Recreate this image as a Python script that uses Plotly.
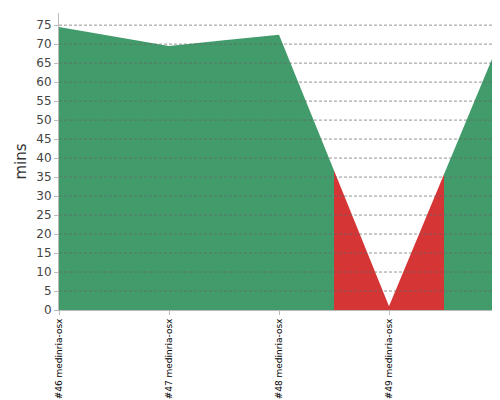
import plotly.graph_objects as go

builds = ["#46 medinria-osx", "#47 medinria-osx", "#48 medinria-osx", "#49 medinria-osx", "#50 medinria-osx"]
durations = [74.5, 69.5, 72.5, 1.0, 70.5]
status = ["ok", "ok", "ok", "fail", "ok"]
grid_values = list(range(5, 80, 5))

colors = {"ok": "#429b6b", "fail": "#d63535"}
n = len(durations)
fig = go.Figure()
for i in range(n):
    xs, ys = [], []
    if i > 0:
        xs.append(i - 0.5); ys.append((durations[i - 1] + durations[i]) / 2)
    xs.append(i); ys.append(durations[i])
    if i < n - 1:
        xs.append(i + 0.5); ys.append((durations[i] + durations[i + 1]) / 2)
    fig.add_trace(go.Scatter(x=xs, y=ys, mode="lines", line=dict(width=0, color=colors[status[i]]),
                             fill="tozeroy", fillcolor=colors[status[i]], showlegend=False, hoverinfo="skip"))

for g in grid_values:
    fig.add_shape(type="line", xref="paper", x0=0, x1=1, yref="y", y0=g, y1=g,
                  line=dict(color="#666", width=0.7, dash="3px,2px"), layer="above")

fig.update_layout(
    width=500, height=400, margin=dict(l=51, r=9, t=5, b=98, autoexpand=False),
    plot_bgcolor="white", paper_bgcolor="white",
    font=dict(family="DejaVu Sans", color="#444"),
)
fig.update_xaxes(range=[0, n - 1], tickmode="array", tickvals=list(range(n)), ticktext=builds,
                 tickangle=-90, tickfont=dict(size=9, color="black"), showgrid=False, automargin=False,
                 showline=True, linecolor="#bbb", ticks="outside", ticklen=4, tickcolor="#bbb",
                 zeroline=False)
fig.update_yaxes(range=[0, 78.2], dtick=5, tickfont=dict(size=12, color="#444"), automargin=False,
                 title=dict(text="mins", font=dict(size=15, color="#333"), standoff=6),
                 showgrid=False,
                 showline=True, linecolor="#bbb", ticks="outside", ticklen=4, tickcolor="#bbb",
                 zeroline=False)
fig.write_html("out.html")
